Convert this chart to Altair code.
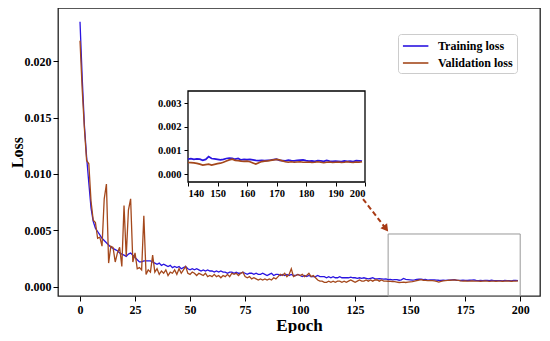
import altair as alt
import pandas as pd

# ---------------- data ----------------
epochs = list(range(200))

train_loss = [
    0.0235, 0.0185, 0.0143, 0.0115, 0.0092, 0.0070, 0.0058, 0.0052, 0.0049, 0.0046,
    0.0043, 0.0041, 0.0039, 0.0037, 0.0035, 0.0034, 0.0033, 0.0032, 0.0030, 0.0029,
    0.0028, 0.0027, 0.0029, 0.0030, 0.0028, 0.0026, 0.0024, 0.0022, 0.0022, 0.0023,
    0.0023, 0.0023, 0.0023, 0.0022, 0.0021, 0.0020, 0.0021, 0.0019, 0.0020, 0.0019,
    0.0018, 0.0019, 0.0017, 0.0018, 0.0017, 0.0018, 0.0016, 0.0017, 0.0018, 0.0016,
    0.0015, 0.0016, 0.0015, 0.0016, 0.0015, 0.0014, 0.0015, 0.0014, 0.0015, 0.0014,
    0.0014, 0.0013, 0.0014, 0.0013, 0.0014, 0.0013, 0.0013, 0.0012, 0.0013, 0.0013,
    0.0012, 0.0013, 0.0012, 0.0012, 0.0013, 0.0012, 0.0011, 0.0012, 0.0012, 0.0011,
    0.0012, 0.0011, 0.0011, 0.0012, 0.0011, 0.0010, 0.0011, 0.0012, 0.0010, 0.0011,
    0.0011, 0.0010, 0.0011, 0.0010, 0.0011, 0.0010, 0.0011, 0.0010, 0.0010, 0.0011,
    0.0010, 0.0009, 0.0010, 0.0009, 0.0010, 0.0009, 0.0009, 0.0009, 0.0010, 0.0009,
    0.0009, 0.0009, 0.0008, 0.0009, 0.0008, 0.0009, 0.0008, 0.0008, 0.0009, 0.0008,
    0.0008, 0.0008, 0.0008, 0.00085, 0.0008, 0.0008, 0.00075, 0.0008, 0.00075, 0.0008,
    0.00075, 0.0007, 0.00075, 0.0008, 0.0007, 0.0007, 0.00072, 0.0007, 0.00068, 0.0007,
    0.00063, 0.00065, 0.00062, 0.00064, 0.00063, 0.00058, 0.00062, 0.00074, 0.00066, 0.00064,
    0.00062, 0.00060, 0.00062, 0.00066, 0.00068, 0.00067, 0.00063, 0.00066, 0.00060, 0.00062,
    0.00061, 0.00062, 0.00060, 0.00058, 0.00057, 0.00058, 0.00057, 0.00058, 0.00059, 0.00061,
    0.00063, 0.00058, 0.00057, 0.00056, 0.00059, 0.00057, 0.00056, 0.00058, 0.00059, 0.00060,
    0.00057, 0.00055, 0.00056, 0.00054, 0.00057, 0.00056, 0.00054, 0.00058, 0.00055, 0.00054,
    0.00055, 0.00054, 0.00053, 0.00056, 0.00054, 0.00055, 0.00053, 0.00057, 0.00056, 0.00055,
]

val_loss = [
    0.0218, 0.0175, 0.0140, 0.0112, 0.0109, 0.0076, 0.0059, 0.0057, 0.0043, 0.0044,
    0.0036, 0.0078, 0.0091, 0.0021, 0.0036, 0.0035, 0.0022, 0.0030, 0.0035, 0.0018,
    0.0072, 0.0027, 0.0068, 0.0078, 0.0022, 0.0030, 0.0016, 0.0017, 0.0015, 0.0063,
    0.0011, 0.0015, 0.0013, 0.0028, 0.0013, 0.0016, 0.0011, 0.0014, 0.0012, 0.0015,
    0.0010, 0.0013, 0.0012, 0.0015, 0.0011, 0.0016, 0.0012, 0.0015, 0.0018, 0.0012,
    0.0011, 0.0013, 0.0012, 0.0010, 0.0012, 0.0011, 0.0010, 0.0012, 0.0009, 0.0010,
    0.0009, 0.0011, 0.0009, 0.0010, 0.0008, 0.0010, 0.0009, 0.0011, 0.0009, 0.0012,
    0.0011, 0.0012, 0.0010, 0.0012, 0.0013, 0.0009, 0.0008, 0.0009, 0.0007, 0.0008,
    0.0007, 0.0006, 0.0007, 0.0006, 0.0007, 0.0006, 0.0007, 0.0006, 0.0008, 0.0007,
    0.0009, 0.0011, 0.0010, 0.0012, 0.0009, 0.0011, 0.0016, 0.0009, 0.0010, 0.0011,
    0.0010, 0.0011, 0.0009, 0.0010, 0.0012, 0.0009, 0.0010, 0.0008, 0.0006, 0.0005,
    0.0005, 0.0004, 0.0004, 0.0005, 0.0004, 0.0005, 0.0004, 0.0005, 0.0005, 0.0004,
    0.0005, 0.0004, 0.0005, 0.0006, 0.0005, 0.0004, 0.0005, 0.0006, 0.0005, 0.0005,
    0.0006, 0.0005, 0.0006, 0.0005, 0.0006, 0.0006, 0.0005, 0.0006, 0.0005, 0.0005,
    0.00049, 0.00048, 0.00047, 0.00045, 0.00042, 0.00038, 0.00040, 0.00042, 0.00038, 0.00041,
    0.00044, 0.00046, 0.00050, 0.00055, 0.00060, 0.00063, 0.00058, 0.00057, 0.00055, 0.00054,
    0.00055, 0.00052, 0.00047, 0.00042, 0.00048, 0.00053, 0.00055, 0.00056, 0.00058, 0.00060,
    0.00062, 0.00060, 0.00056, 0.00052, 0.00050, 0.00052, 0.00050, 0.00051, 0.00052, 0.00050,
    0.00050, 0.00051, 0.00049, 0.00050, 0.00052, 0.00050, 0.00048, 0.00050, 0.00051, 0.00049,
    0.00050, 0.00051, 0.00049, 0.00050, 0.00052, 0.00050, 0.00049, 0.00051, 0.00050, 0.00052,
]

series_names = ["Training loss", "Validation loss"]
series_colors = ["#2a14e0", "#a4481c"]

x_ticks = [0, 25, 50, 75, 100, 125, 150, 175, 200]
y_ticks = [0.0, 0.005, 0.010, 0.015, 0.020]
inset_x_ticks = [140, 150, 160, 170, 180, 190, 200]
inset_y_ticks = [0.0, 0.001, 0.002, 0.003]

x_domain = [-10, 209]
y_domain = [-0.000816, 0.02471]
inset_x_domain = [140, 200]
inset_y_domain = [-0.00034, 0.00353]

zoom_box_x = [140, 200]
zoom_box_y = [-0.000816, 0.00468]
arrow_x = [128.6, 139.0]
arrow_y = [0.00778, 0.00515]

# ---------------- frames ----------------
df = pd.DataFrame({
    "epoch": epochs * 2,
    "loss": train_loss + val_loss,
    "series": [series_names[0]] * 200 + [series_names[1]] * 200,
})
box_df = pd.DataFrame({"x0": [zoom_box_x[0]], "x1": [zoom_box_x[1]],
                       "y0": [zoom_box_y[0]], "y1": [zoom_box_y[1]]})
arrow_df = pd.DataFrame({"x0": [arrow_x[0]], "x1": [arrow_x[1]],
                         "y0": [arrow_y[0]], "y1": [arrow_y[1]]})
head_df = pd.DataFrame({"x": [arrow_x[1]], "y": [arrow_y[1]]})
inset_frame_df = pd.DataFrame({"x0": [inset_x_domain[0]], "x1": [inset_x_domain[1]],
                               "y0": [inset_y_domain[0]], "y1": [inset_y_domain[1]]})

FONT = "Liberation Serif"
W, H = 482, 288

xs = alt.Scale(domain=x_domain, nice=False, zero=False)
ys = alt.Scale(domain=y_domain, nice=False, zero=False)

x_axis = alt.Axis(values=x_ticks, format="d", domain=False, grid=False, tickSize=5,
                  labelPadding=3, titleFontSize=17, titleBaseline="alphabetic",
                  titleY=34)
y_axis = alt.Axis(values=y_ticks, format=".3f", domain=False, grid=False, tickSize=5,
                  labelPadding=2, titleFontSize=16, titleX=-33, titleY=H / 2)

lines = alt.Chart(df).mark_line(strokeWidth=1.3).encode(
    x=alt.X("epoch:Q", scale=xs, axis=x_axis, title="Epoch"),
    y=alt.Y("loss:Q", scale=ys, axis=y_axis, title="Loss"),
    color=alt.Color("series:N",
                    scale=alt.Scale(domain=series_names, range=series_colors),
                    legend=alt.Legend(title=None, orient="none", legendX=340, legendY=26,
                                      symbolType="M-1,0L2.6,0", symbolSize=200,
                                      symbolStrokeWidth=1.6, labelFont=FONT,
                                      labelFontWeight="bold", labelFontSize=12,
                                      labelColor="black", labelOffset=20,
                                      strokeColor="#cccccc", fillColor="white",
                                      cornerRadius=3, padding=4, rowPadding=3)),
)

box = alt.Chart(box_df).mark_rect(fillOpacity=0, stroke="#999999", strokeWidth=1).encode(
    x=alt.X("x0:Q", scale=xs, title="Epoch"), x2="x1:Q",
    y=alt.Y("y0:Q", scale=ys, title="Loss"), y2="y1:Q",
)

arrow = alt.Chart(arrow_df).mark_rule(color="#a83a14", strokeWidth=2,
                                      strokeDash=[5, 3]).encode(
    x=alt.X("x0:Q", scale=xs, title="Epoch"), x2="x1:Q",
    y=alt.Y("y0:Q", scale=ys, title="Loss"), y2="y1:Q",
)

head = alt.Chart(head_df).mark_point(shape="triangle-right", filled=True, size=70,
                                     color="#a83a14", opacity=1, angle=53).encode(
    x=alt.X("x:Q", scale=xs, title="Epoch"),
    y=alt.Y("y:Q", scale=ys, title="Loss"),
)

main = alt.layer(box, lines, arrow, head)

ixs = alt.Scale(domain=inset_x_domain, range=[130, 307], nice=False, zero=False)
iys = alt.Scale(domain=inset_y_domain, range=[174, 83], nice=False, zero=False)

ix_axis = alt.Axis(values=inset_x_ticks, format="d", domain=False, grid=False,
                   orient="bottom", offset=174 - H, tickSize=4, labelPadding=2,
                   labelFontSize=10.5, title=None)
iy_axis = alt.Axis(values=inset_y_ticks, format=".3f", domain=False, grid=False,
                   orient="left", offset=-130, tickSize=4, labelPadding=3,
                   labelFontSize=10.5, title=None)

inset_frame = alt.Chart(inset_frame_df).mark_rect(fill="white", stroke="black",
                                                  strokeWidth=1.3).encode(
    x=alt.X("x0:Q", scale=ixs, axis=ix_axis), x2="x1:Q",
    y=alt.Y("y0:Q", scale=iys, axis=iy_axis), y2="y1:Q",
)

inset_layers = [inset_frame]
for name, col in zip(series_names, series_colors):
    inset_layers.append(
        alt.Chart(df).transform_filter(
            (alt.datum.series == name) & (alt.datum.epoch >= 140)
        ).mark_line(color=col, strokeWidth=1.7).encode(
            x=alt.X("epoch:Q", scale=ixs, axis=ix_axis),
            y=alt.Y("loss:Q", scale=iys, axis=iy_axis),
        )
    )
inset = alt.layer(*inset_layers)

chart = alt.layer(main, inset).resolve_scale(
    x="independent", y="independent"
).properties(
    width=W, height=H,
    autosize=alt.AutoSizeParams(type="none"),
    padding={"left": 50, "top": 0, "right": 2, "bottom": 37},
).configure_view(
    stroke="#222222", strokeWidth=1.3
).configure_axis(
    labelFont=FONT, labelFontWeight="bold", labelFontSize=12, labelColor="black",
    titleFont=FONT, titleFontWeight="bold", titleColor="black",
    tickColor="black", tickWidth=1,
)

chart.save("out.html", embed_options={"renderer": "svg", "actions": False})
